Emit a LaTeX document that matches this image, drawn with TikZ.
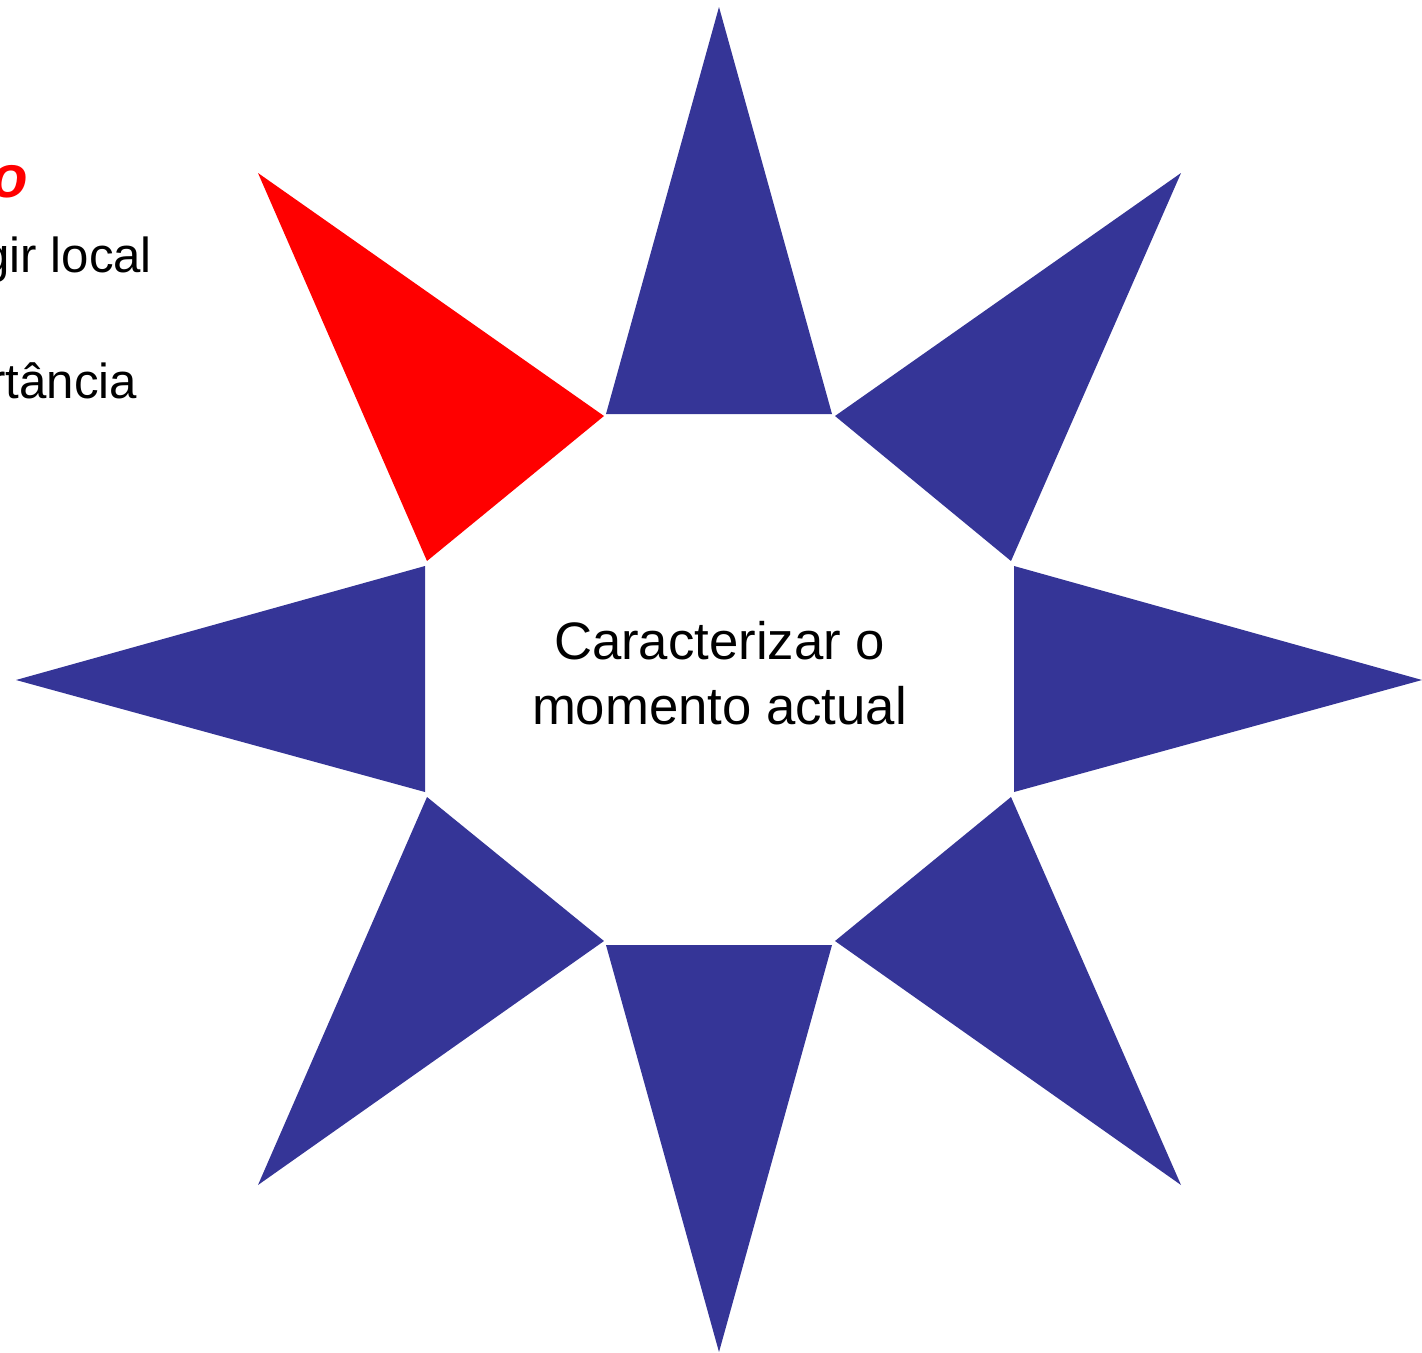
\documentclass[tikz,border=0pt]{standalone}
\usepackage{fontspec}
\setmainfont{Liberation Sans}
\usepackage{xcolor}
\definecolor{rayblue}{HTML}{353597}
\definecolor{rayred}{HTML}{FF0000}

\begin{document}
\begin{tikzpicture}[
    x=0.02cm, y=-0.02cm,
    every node/.style={inner sep=0pt, outer sep=0pt},
    ray/.style={fill=rayblue, draw=none},
    hotray/.style={fill=rayred, draw=none},
    centretext/.style={font=\fontsize{30}{37}\selectfont, align=center},
    sidetext/.style={font=\fontsize{28}{34}\selectfont, anchor=base east},
    sidetitle/.style={font=\fontsize{34}{40}\selectfont\bfseries\itshape,
                      text=rayred, anchor=base east},
]
\useasboundingbox (0,0) rectangle (1422,1352);

% Blue rays of the star
\foreach \tip/\ba/\bb in {
    {(719,7)}/{(606,414)}/{(832,414)},
    {(1181,173)}/{(835,416)}/{(1011,561)},
    {(1422,680)}/{(1014,566)}/{(1014,792)},
    {(1181,1185)}/{(1011,797)}/{(835,941)},
    {(719,1352)}/{(832,945)}/{(606,945)},
    {(258,1185)}/{(604,941)}/{(427,797)},
    {(16,680)}/{(425,792)}/{(425,566)}}
  \fill[ray] \tip -- \ba -- \bb -- cycle;

% Highlighted ray
\fill[hotray] (258,173) -- (427,561) -- (604,416) -- cycle;

% Centre label
\node[centretext] (centre) at (719.5,673) {Caracterizar o\\momento actual};

% Side text, cut by the page edge
\node[sidetitle] (title) at (28,197) {o};
\node[sidetext] (lineone) at (152,272) {gir local};
\node[sidetext] (linetwo) at (137,398) {rtância};

\end{tikzpicture}
\end{document}
